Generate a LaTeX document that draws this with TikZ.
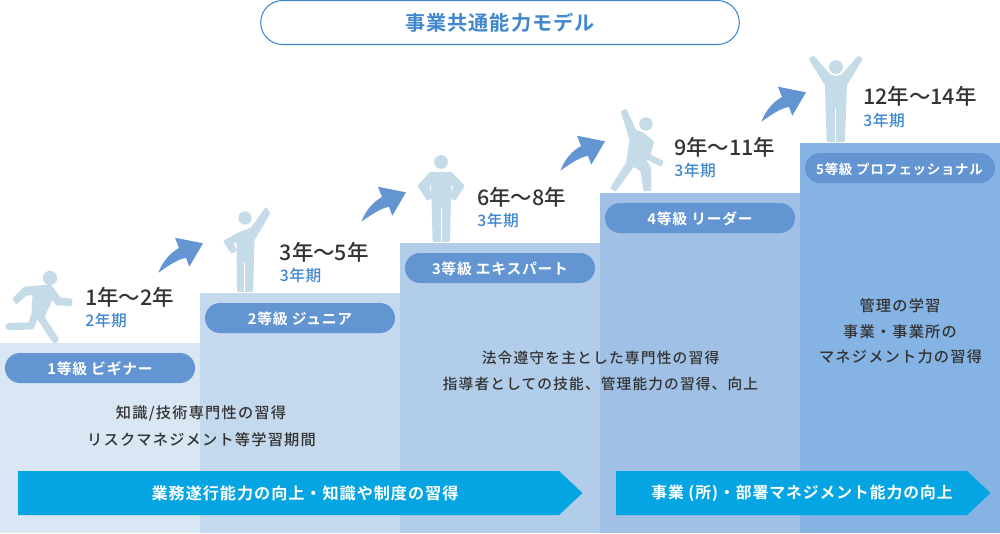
\documentclass[tikz,border=0pt]{standalone}
\usepackage{fontspec}
\setmainfont{Noto Sans CJK JP}
\newfontfamily\jpreg[LetterSpace=8]{Noto Sans CJK JP Medium}
\newfontfamily\jpyear{Noto Sans CJK JP Medium}
\newfontfamily\jpmed[LetterSpace=4]{Noto Sans CJK JP Medium}
\newfontfamily\jpbold[LetterSpace=5]{Noto Sans CJK JP Bold}
\newfontfamily\jpwide[LetterSpace=6]{Noto Sans CJK JP Bold}
\definecolor{barA}{HTML}{D9E6F3}
\definecolor{barB}{HTML}{C5D9EE}
\definecolor{barC}{HTML}{B1CDEA}
\definecolor{barD}{HTML}{A0C1E5}
\definecolor{barE}{HTML}{85B3E3}
\definecolor{pillblue}{HTML}{6295D2}
\definecolor{chevblue}{HTML}{04A5E2}
\definecolor{figblue}{HTML}{C6DBE8}
\definecolor{textblue}{HTML}{3F87CE}
\definecolor{inkdark}{HTML}{333333}
\tikzset{
  x=0.75pt,y=-0.75pt,
  pill/.style={fill=pillblue,draw=none,rounded corners=11.25pt},
  pilltext/.style={text=white,inner sep=0pt,font=\fontsize{11.1pt}{13pt}\jpbold},
  chev/.style={fill=chevblue,draw=none},
  chevtext/.style={text=white,inner sep=0pt,font=\fontsize{12.1pt}{14pt}\jpwide},
  bodytext/.style={text=inkdark,inner sep=0pt,font=\fontsize{11.4pt}{14pt}\jpreg},
  yeartext/.style={text=inkdark,anchor=west,inner sep=0pt,font=\fontsize{16.1pt}{18pt}\jpyear},
  periodtext/.style={text=textblue,anchor=west,inner sep=0pt,font=\fontsize{11.8pt}{14pt}\jpmed},
  limb/.style={draw=figblue,line width=5.4pt,line cap=round,line join=round},
  figbody/.style={fill=figblue,draw=figblue,line width=2.2pt,line join=round},
  leggap/.style={draw=white,line width=0.9pt},
}
\newcommand{\upArrow}[2]{%
  \fill[pillblue,shift={(#1,#2)}] (158.3,272.7) .. controls (163,261) and (170,253) .. (179,248)
    -- (175,237.7) -- (203,243.3) -- (189.3,266.7) -- (186,257.8)
    .. controls (177,259.5) and (168,266) .. (158.3,272.7) -- cycle;}
\begin{document}
\begin{tikzpicture}
\useasboundingbox (0,0) rectangle (1000,533);
% steps
\fill[barA] (0,343) rectangle (200,533);
\fill[barB] (200,293) rectangle (400,533);
\fill[barC] (400,243) rectangle (600,533);
\fill[barD] (600,193) rectangle (800,533);
\fill[barE] (800,143) rectangle (1000,533);
% title
\node[draw=textblue,fill=white,line width=0.8pt,minimum width=359pt,minimum height=33pt,rounded corners=16.5pt,inner sep=0pt,text=textblue,font=\fontsize{15.1pt}{18pt}\jpbold] (title) at (500,22.5) {事業共通能力モデル};
% pills
\fill[pill] (5,353) rectangle (195,383);
\fill[pill] (205,303) rectangle (395,333);
\fill[pill] (405,253) rectangle (595,283);
\fill[pill] (605,203) rectangle (795,233);
\fill[pill] (805,153) rectangle (995,183);
\node[pilltext] (g1) at (100,368.5) {1等級 ビギナー};
\node[pilltext] (g2) at (300,319) {2等級 ジュニア};
\node[pilltext] (g3) at (500,268.5) {3等級 エキスパート};
\node[pilltext] (g4) at (700,219) {4等級 リーダー};
\node[pilltext,font=\fontsize{10.1pt}{13pt}\jpbold] (g5) at (899.5,169) {5等級 プロフェッショナル};
% year labels
\node[yeartext] (y1) at (85,297.5) {1年～2年};
\node[periodtext] (p1) at (85,320.5) {2年期};
\node[yeartext] (y2) at (279.5,252.5) {3年～5年};
\node[periodtext] (p2) at (279.5,275.5) {3年期};
\node[yeartext] (y3) at (477,197.5) {6年～8年};
\node[periodtext] (p3) at (477,220.5) {3年期};
\node[yeartext] (y4) at (674,147.5) {9年～11年};
\node[periodtext] (p4) at (674,170.5) {3年期};
\node[yeartext] (y5) at (863,96.5) {12年～14年};
\node[periodtext] (p5) at (863,120.5) {3年期};
% arrows
\upArrow{0}{0}
\upArrow{203}{-51}
\upArrow{402}{-102}
\upArrow{603}{-151}
% figure 1: runner
\fill[figblue] (50,278) circle[radius=5.4pt];
\path[figbody] (14,299) -- (16.5,302.5) -- (26,294) -- (34,294) -- (33,312) -- (36,317) -- (43,317) -- (52,297) -- (57,304) -- (70.5,304.5) -- (71,300) -- (60,299) -- (50,286) -- (25,288) -- cycle;
\draw[limb] (37,312) -- (55,339.5);
\draw[limb] (36,312) -- (31,326) -- (9,326.5);
% figure 2
\fill[figblue] (245,218) circle[radius=5pt];
\path[figbody] (238.5,234) -- (225,241.7) -- (232,252) -- (235,250) -- (232,242.7) -- (238,240) -- (238.5,290.5) -- (251.7,290.5) -- (253,240) -- (268.5,213.5) -- (266,209) -- (251.7,229) -- cycle;
\draw[leggap] (244.8,262) -- (244.8,293);
% figure 3
\fill[figblue] (441,162) circle[radius=5.2pt];
\path[figbody] (430.5,173.5) -- (451,173.5) -- (463,186) -- (454.5,199) -- (450.5,196.5) -- (455,186.7) -- (450,180.5) -- (448.5,240.5) -- (434,240.5) -- (432.5,180.5) -- (427.5,186.7) -- (431.5,196.5) -- (427.8,199) -- (419.3,186) -- cycle;
\draw[leggap] (441.2,208) -- (441.2,243);
% figure 4
\fill[figblue] (646,124) circle[radius=5pt];
\path[figbody] (622.5,112) -- (625.5,110.5) -- (635,131) -- (643,134) -- (652.5,142) -- (649,155.5) -- (662,162) -- (660.5,165) -- (646.5,157.5) -- (643.5,157) -- (649.5,168.5) -- (650,189.5) -- (645,190) -- (641.7,170) -- (633.3,165) -- (615,190) -- (612,187.5) -- (627.5,163.3) -- (631,140) -- cycle;
% figure 5
\fill[figblue] (836,67) circle[radius=5.2pt];
\path[figbody] (810.5,59) -- (813.5,57.5) -- (830,76) -- (836,77.5) -- (842,76) -- (858.5,57.5) -- (861,59) -- (845.5,85) -- (843.5,140.5) -- (828,140.5) -- (826.5,85) -- cycle;
\draw[leggap] (835.8,108) -- (835.8,143);
% chevrons
\fill[chev] (18,471) -- (559,471) -- (582.5,493) -- (559,515) -- (18,515) -- cycle;
\fill[chev] (616,471) -- (967,471) -- (990.5,493) -- (967,515) -- (616,515) -- cycle;
\node[chevtext] (c1) at (305,493.5) {業務遂行能力の向上・知識や制度の習得};
\node[chevtext,font=\fontsize{11.85pt}{14pt}\jpwide] (c2) at (802,493.5) {事業 (所)・部署マネジメント能力の向上};
% body text
\node[bodytext] (b1) at (201,413.5) {知識/技術専門性の習得};
\node[bodytext] (b2) at (201.5,439.5) {リスクマネジメント等学習期間};
\node[bodytext,font=\fontsize{11.05pt}{14pt}\jpreg] (b3) at (600.5,357.5) {法令遵守を主とした専門性の習得};
\node[bodytext,font=\fontsize{11.0pt}{14pt}\jpreg] (b4) at (600.5,383.5) {指導者としての技能、管理能力の習得、向上};
\node[bodytext] (b5) at (900,305.5) {管理の学習};
\node[bodytext] (b6) at (900,331.5) {事業・事業所の};
\node[bodytext] (b7) at (900.5,356.5) {マネジメント力の習得};
\end{tikzpicture}
\end{document}
